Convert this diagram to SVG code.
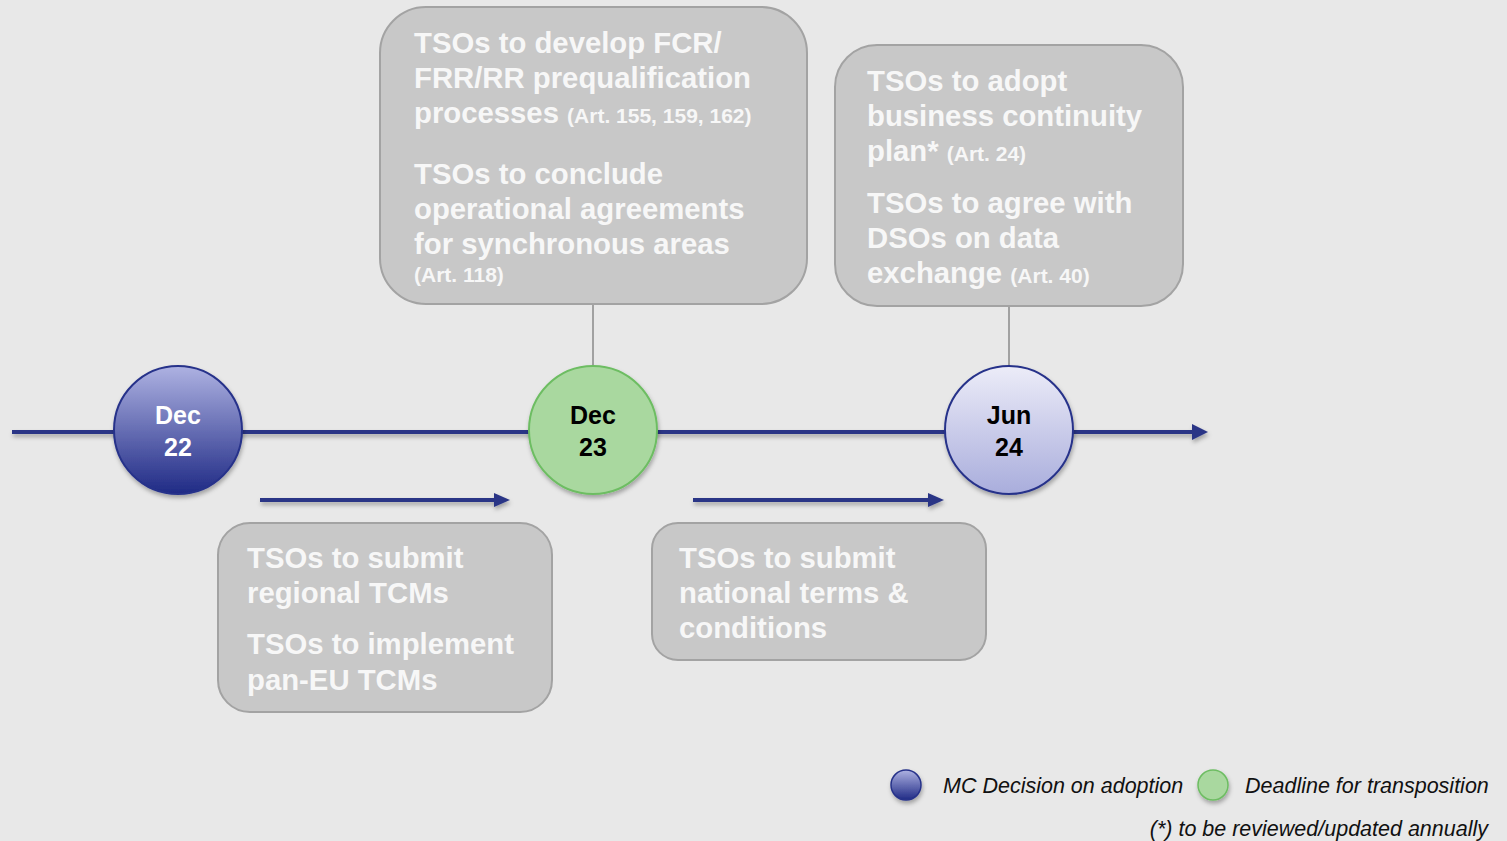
<svg xmlns="http://www.w3.org/2000/svg" width="1507" height="841" viewBox="0 0 1507 841">
<defs>
<linearGradient id="gBlue" x1="0" y1="0" x2="0" y2="1">
<stop offset="0" stop-color="#aeb2e2"/><stop offset="1" stop-color="#1f2a85"/>
</linearGradient>
<linearGradient id="gLight" x1="0" y1="0" x2="0" y2="1">
<stop offset="0" stop-color="#ececf8"/><stop offset="1" stop-color="#a9addc"/>
</linearGradient>
<filter id="sh" x="-20%" y="-20%" width="140%" height="150%">
<feDropShadow dx="1" dy="3" stdDeviation="2" flood-color="#000" flood-opacity="0.3"/>
</filter>
<filter id="shl" filterUnits="userSpaceOnUse" x="0" y="0" width="1507" height="841">
<feDropShadow dx="1" dy="3" stdDeviation="2" flood-color="#000" flood-opacity="0.3"/>
</filter>
<marker id="ah" markerUnits="userSpaceOnUse" markerWidth="18" markerHeight="18" refX="2" refY="8" orient="auto">
<path d="M0,0 L16,8 L0,16 z" fill="#2b3686"/>
</marker>
<marker id="ahs" markerUnits="userSpaceOnUse" markerWidth="18" markerHeight="16" refX="2" refY="7" orient="auto">
<path d="M0,0 L16,7 L0,14 z" fill="#2b3686"/>
</marker>
</defs>
<style>
.box{fill:#c8c8c8;stroke:#a3a3a3;stroke-width:2}
.t{font-family:"Liberation Sans",Arial,sans-serif;font-weight:bold;font-size:29.3px;fill:#f7f7f7}
.s{font-size:21px}
.d{font-family:"Liberation Sans",Arial,sans-serif;font-weight:bold;font-size:25px;text-anchor:middle}
.lg{font-family:"Liberation Sans",Arial,sans-serif;font-style:italic;font-size:21.5px;fill:#111}
.tl{stroke:#2b3686;stroke-width:4;fill:none}
.vc{stroke:#8a8a8a;stroke-width:1.5}
</style>
<rect width="1507" height="841" fill="#e8e8e8"/>

<g id="connectors">
<line class="vc" x1="593" y1="304" x2="593" y2="367"/>
<line class="vc" x1="1009" y1="306" x2="1009" y2="367"/>
<g filter="url(#shl)">
<line class="tl" x1="12" y1="432" x2="1194" y2="432" marker-end="url(#ah)"/>
<line class="tl" x1="260" y1="500" x2="496" y2="500" marker-end="url(#ahs)"/>
<line class="tl" x1="693" y1="500" x2="930" y2="500" marker-end="url(#ahs)"/>
</g>
</g>

<g id="box-dec23">
<rect class="box" x="380" y="7" width="427" height="297" rx="46"/>
<text class="t"><tspan x="414" y="53">TSOs to develop FCR/</tspan><tspan x="414" y="88">FRR/RR prequalification</tspan><tspan x="414" y="123">processes <tspan class="s">(Art. 155, 159, 162)</tspan></tspan><tspan x="414" y="184">TSOs to conclude</tspan><tspan x="414" y="219">operational agreements</tspan><tspan x="414" y="254">for synchronous areas</tspan><tspan x="414" y="282" class="s">(Art. 118)</tspan></text>
</g>

<g id="box-jun24">
<rect class="box" x="835" y="45" width="348" height="261" rx="42"/>
<text class="t"><tspan x="867" y="91">TSOs to adopt</tspan><tspan x="867" y="126">business continuity</tspan><tspan x="867" y="161">plan* <tspan class="s">(Art. 24)</tspan></tspan><tspan x="867" y="213">TSOs to agree with</tspan><tspan x="867" y="248">DSOs on data</tspan><tspan x="867" y="283">exchange <tspan class="s">(Art. 40)</tspan></tspan></text>
</g>

<g id="box-regional">
<rect class="box" x="218" y="523" width="334" height="189" rx="32"/>
<text class="t"><tspan x="247" y="568">TSOs to submit</tspan><tspan x="247" y="603">regional TCMs</tspan><tspan x="247" y="654">TSOs to implement</tspan><tspan x="247" y="690">pan-EU TCMs</tspan></text>
</g>

<g id="box-national">
<rect class="box" x="652" y="523" width="334" height="137" rx="26"/>
<text class="t"><tspan x="679" y="568">TSOs to submit</tspan><tspan x="679" y="603">national terms &amp;</tspan><tspan x="679" y="638">conditions</tspan></text>
</g>

<g id="node-dec22">
<circle cx="178" cy="430" r="64" fill="url(#gBlue)" stroke="#27328a" stroke-width="2" filter="url(#sh)"/>
<text class="d" fill="#ffffff"><tspan x="178" y="424">Dec</tspan><tspan x="178" y="456">22</tspan></text>
</g>

<g id="node-dec23">
<circle cx="593" cy="430" r="64" fill="#a9d89f" stroke="#6dbd62" stroke-width="2" filter="url(#sh)"/>
<text class="d" fill="#000000"><tspan x="593" y="424">Dec</tspan><tspan x="593" y="456">23</tspan></text>
</g>

<g id="node-jun24">
<circle cx="1009" cy="430" r="64" fill="url(#gLight)" stroke="#27328a" stroke-width="2" filter="url(#sh)"/>
<text class="d" fill="#000000"><tspan x="1009" y="424">Jun</tspan><tspan x="1009" y="456">24</tspan></text>
</g>

<g id="legend">
<circle cx="906" cy="785" r="15" fill="url(#gBlue)" stroke="#27328a" stroke-width="1.5" filter="url(#sh)"/>
<text class="lg" x="943" y="793">MC Decision on adoption</text>
<circle cx="1213" cy="785" r="15" fill="#a9d89f" stroke="#6dbd62" stroke-width="1.5" filter="url(#sh)"/>
<text class="lg" x="1245" y="793">Deadline for transposition</text>
<text class="lg" x="1488" y="836" text-anchor="end">(*) to be reviewed/updated annually</text>
</g>
</svg>
